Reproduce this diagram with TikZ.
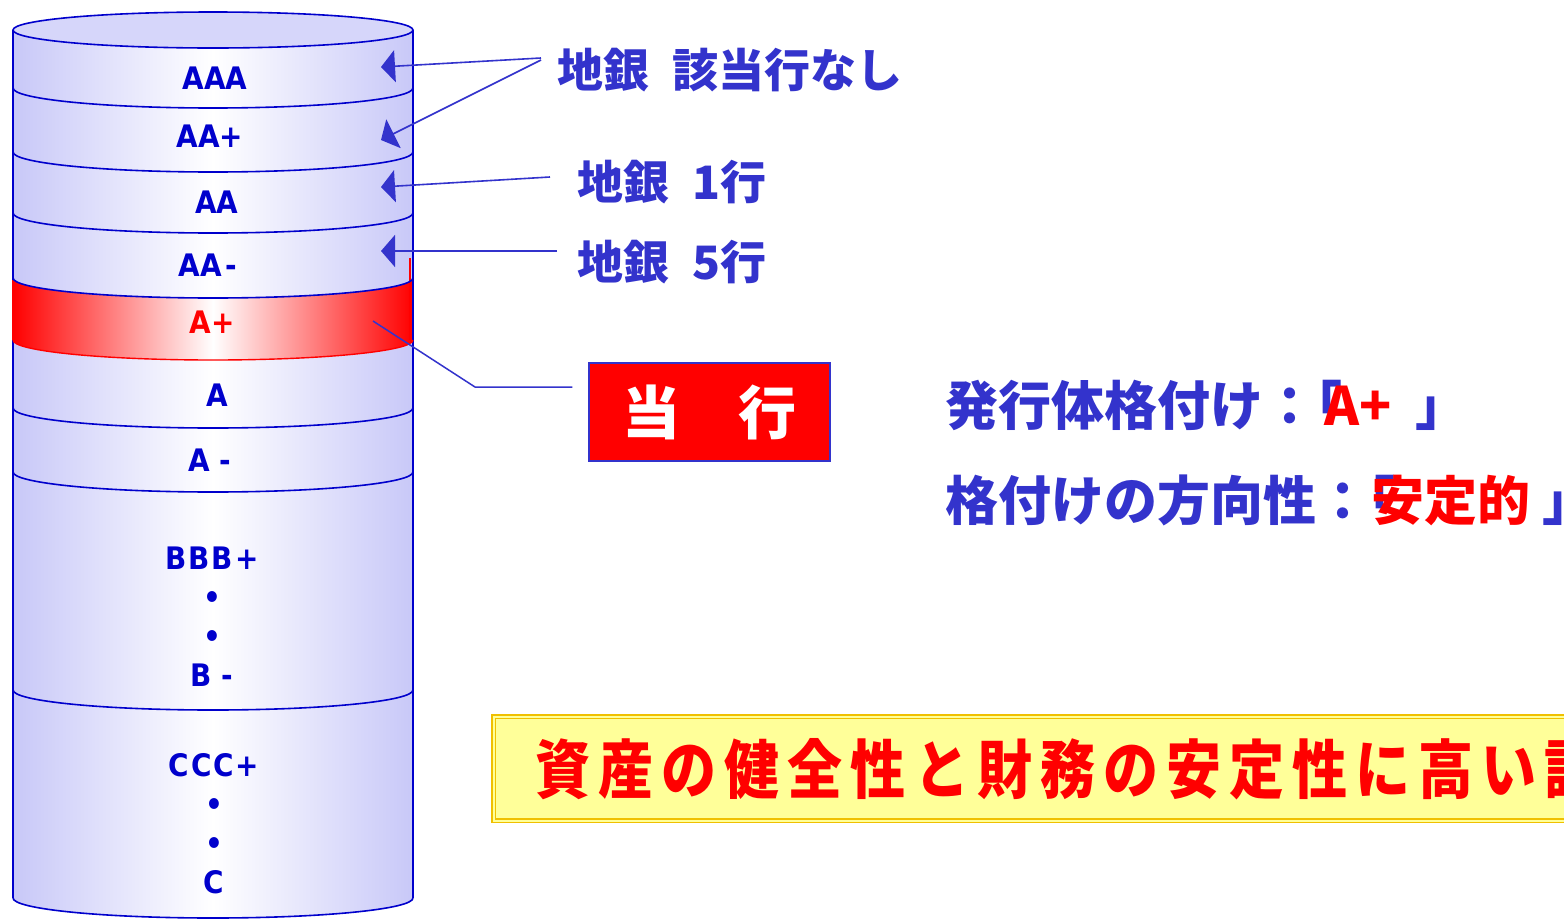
\documentclass[tikz,border=0pt]{standalone}
\usepackage{fontspec}
\usetikzlibrary{arrows.meta}
\setmainfont{DejaVu Sans}
\newfontfamily\cylf{DejaVu Sans Condensed}
\newfontfamily\jp{Noto Sans CJK JP}
\newfontfamily\jpc{Noto Sans CJK JP}[FakeStretch=0.86]
\definecolor{lav}{HTML}{C8C8F8}
\definecolor{lavtop}{HTML}{D6D6FA}
\definecolor{cylblue}{HTML}{0000CC}
\definecolor{lblue}{HTML}{3333CC}
\definecolor{yel}{HTML}{FFFF99}
\definecolor{gold}{HTML}{F0C000}
\newcommand\cylfont{\cylf\fontsize{31}{39}\selectfont\bfseries}
\def\spc#1{\ifx#1\relax\else#1\kern8pt\expandafter\spc\fi}
% band between two side heights (top arc, bottom arc), front half-ellipse arcs
\newcommand\bandfill[3]{\shade[#1] (13,#2) -- (13,#3)
 .. controls (13,{#3+11.05}) and (102.6,{#3+20}) .. (213,{#3+20})
 .. controls (323.4,{#3+20}) and (413,{#3+11.05}) .. (413,#3)
 -- (413,#2)
 .. controls (413,{#2+11.05}) and (323.4,{#2+20}) .. (213,{#2+20})
 .. controls (102.6,{#2+20}) and (13,{#2+11.05}) .. (13,#2) -- cycle;}
\newcommand\botarc[2]{\draw[#1] (13,#2)
 .. controls (13,{#2+11.05}) and (102.6,{#2+20}) .. (213,{#2+20})
 .. controls (323.4,{#2+20}) and (413,{#2+11.05}) .. (413,#2);}
\begin{document}
\begin{tikzpicture}[x=1pt,y=-1pt,
  cyl/.style={draw=cylblue, line width=1.6pt},
  blueband/.style={left color=lav, right color=lav, middle color=white},
  redband/.style={left color=red, right color=red, middle color=white},
  lbl/.style={text=cylblue, font=\cylfont, inner sep=0pt},
  jlbl/.style={text=lblue, font=\jp\bfseries\fontsize{46}{50}\selectfont, anchor=west, inner sep=0pt},
  rtxt/.style={text=lblue, font=\jp\bfseries\fontsize{53}{56}\selectfont, anchor=west, inner sep=0pt},
  arr/.style={draw=lblue, line width=1.6pt, -{Triangle[length=14pt,width=32pt]}},
  conn/.style={draw=lblue, line width=1.5pt},
  tobox/.style={draw=lblue, line width=1.2pt, fill=red, text=white,
    minimum width=241pt, minimum height=98pt, inner sep=0pt,
    font=\jp\bfseries\fontsize{58}{58}\selectfont},
  ybox/.style={draw=gold, line width=1.6pt, double=yel, double distance=2pt, fill=yel,
    anchor=north west, inner xsep=42pt, minimum height=104pt, text=red,
    font=\jpc\bfseries\fontsize{64}{64}\selectfont}
]
\useasboundingbox (0,0) rectangle (1564,919);
\clip (0,0) rectangle (1564,919);

% ---- cylinder fills ----
\bandfill{blueband}{28}{88}
\bandfill{blueband}{88}{152}
\bandfill{blueband}{152}{213}
\bandfill{blueband}{213}{278}
\bandfill{redband}{278}{340}
\bandfill{blueband}{340}{408}
\bandfill{blueband}{408}{472}
\bandfill{blueband}{472}{690}
\bandfill{blueband}{690}{898}

% ---- cylinder outlines ----
\draw[cyl] (13,30) -- (13,898);
\draw[cyl] (413,30) -- (413,898);
\draw[red, line width=1.4pt] (13,280) -- (13,340);
\draw[red, line width=1.4pt] (410,258) -- (410,340);
\botarc{red, line width=1.4pt}{340}
\foreach \b in {88,152,213,278,408,472,690,898} {\botarc{cyl}{\b}}
\draw[cyl, fill=lavtop] (213,30) ellipse [x radius=200, y radius=18];

% ---- cylinder labels ----
\node[lbl] (aaa) at (215,78) {AAA};
\node[lbl] (aap) at (210,136) {AA+};
\node[lbl] (aa) at (217,202) {AA};
\node[lbl] (aam) at (208,265) {AA\kern4pt-};
\node[lbl, text=red] (ap) at (212,322) {A+};
\node[lbl] (a) at (217,395) {A};
\node[lbl] (am) at (210,460) {A -};
\node[lbl, align=center] (bbb) at (212,617) {B\kern2pt B\kern2pt B\kern2pt+\\•\\•\\B -};
\node[lbl, align=center] (ccc) at (214,824) {C\kern2pt C\kern2pt C\kern2pt+\\•\\•\\C};

% ---- arrow tips / connector points inside cylinder ----
\coordinate (t1) at (381,67);
\coordinate (t2) at (381,140);
\coordinate (t3) at (381,187);
\coordinate (t4) at (381,251);
\coordinate (tap) at (373,321);

% ---- right labels ----
\node[jlbl] (l1) at (557,70) {地銀\hspace{0.5em}該当行なし};
\node[jlbl] (l2) at (577,182) {地銀\hspace{0.5em}1行};
\node[jlbl] (l3) at (577,262) {地銀\hspace{0.5em}5行};

\draw[arr] ([shift={(-16,-12)}]l1.west) -- (t1);
\draw[arr] ([shift={(-16,-10)}]l1.west) -- (t2);
\draw[arr] ([shift={(-27,-5)}]l2.west) -- (t3);
\draw[arr] ([shift={(-20,-11)}]l3.west) -- (t4);

% ---- this bank box ----
\node[tobox] (tb) at (709.5,412) {当\hspace{1em}行};
\draw[conn] (tap) -- (475,387) -- ([shift={(-16,-25)}]tb.west);

% ---- rating texts ----
\node[rtxt] (r1) at (945,405) {発行体格付け：\kern-0.5em「\kern-0.35em\textcolor{red}{A+}\kern24pt」};
\node[rtxt] (r2) at (945,500) {格付けの方向性：\kern-0.5em「\kern-0.45em\textcolor{red}{安定的}\kern12pt」};

% ---- yellow box ----
\node[ybox] (yb) at (493,716) {\spc 資産の健全性と財務の安定性に高い評価\relax};
\end{tikzpicture}
\end{document}
